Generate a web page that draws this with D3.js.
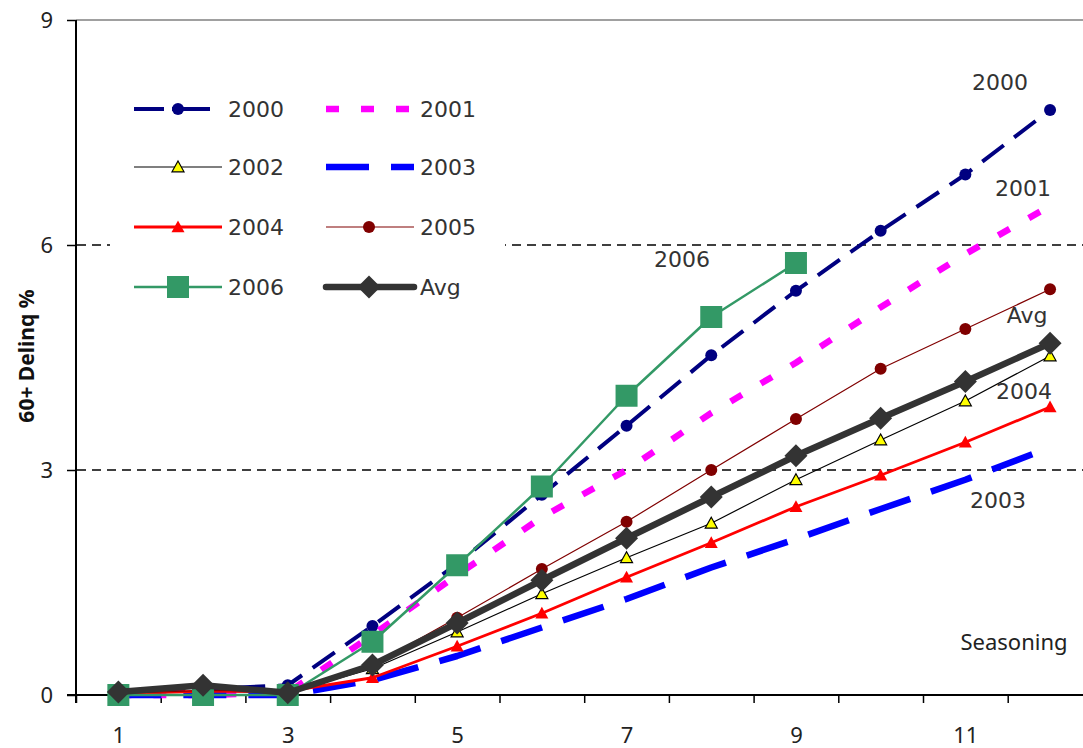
<!DOCTYPE html>
<html>
<head>
<meta charset="utf-8">
<script src="https://cdn.jsdelivr.net/npm/d3@7"></script>
<style>
  html, body { margin: 0; padding: 0; background: #fff; }
  svg { display: block; }
</style>
</head>
<body>
<svg id="chart" width="1083" height="748"></svg>
<script>
// ---- data ----
const categories = [1, 2, 3, 4, 5, 6, 7, 8, 9, 10, 11, 12];
const xTickLabels = [1, 3, 5, 7, 9, 11];
const yTickValues = [0, 3, 6, 9];
const gridValues = [3, 6];
const seriesNames = ["2000", "2001", "2002", "2003", "2004", "2005", "2006", "Avg"];
const v2000 = [0.03, 0.08, 0.13, 0.92, 1.75, 2.67, 3.59, 4.53, 5.39, 6.19, 6.94, 7.80];
const v2001 = [0.00, 0.00, 0.03, 0.80, 1.60, 2.37, 3.00, 3.76, 4.43, 5.17, 5.88, 6.52];
const v2002 = [0.02, 0.05, 0.03, 0.35, 0.84, 1.35, 1.83, 2.29, 2.87, 3.40, 3.92, 4.52];
const v2003 = [0.00, 0.00, 0.00, 0.20, 0.52, 0.90, 1.28, 1.70, 2.08, 2.48, 2.87, 3.30];
const v2004 = [0.02, 0.05, 0.05, 0.23, 0.65, 1.09, 1.57, 2.03, 2.51, 2.93, 3.37, 3.84];
const v2005 = [0.02, 0.06, 0.05, 0.40, 1.03, 1.68, 2.31, 3.00, 3.68, 4.35, 4.88, 5.41];
const v2006 = [0.00, 0.00, 0.00, 0.71, 1.73, 2.78, 3.99, 5.04, 5.76];
const vAvg  = [0.04, 0.13, 0.03, 0.40, 0.96, 1.53, 2.09, 2.64, 3.19, 3.69, 4.18, 4.69];
const yAxisTitle = "60+ Delinq %";
const xAxisTitle = "Seasoning";

// ---- styles (separate from data) ----
const styles = {
  "2000": {color: "#000080", width: 4, dash: "27,13", marker: "circle", fill: "#000080", stroke: "none", size: 6, legendDash: "30,8,38,14"},
  "2001": {color: "#FF00FF", width: 6.5, dash: "13,22", marker: null, legendDash: "13,22"},
  "2002": {color: "#000000", width: 1.2, dash: null, marker: "triangle", fill: "#FFFF00", stroke: "#000", size: 6},
  "2003": {color: "#0000FF", width: 6.5, dash: "43,22", marker: null, legendDash: "43,22"},
  "2004": {color: "#FF0000", width: 2.8, dash: null, marker: "triangle", fill: "#FF0000", stroke: "none", size: 6.5},
  "2005": {color: "#800000", width: 1.2, dash: null, marker: "circle", fill: "#800000", stroke: "none", size: 6},
  "2006": {color: "#339966", width: 2.5, dash: null, marker: "square", fill: "#339966", stroke: "none", size: 11},
  "Avg":  {color: "#333333", width: 6.5, dash: null, marker: "diamond", fill: "#333333", stroke: "none", size: 11.5}
};
const seriesValues = {"2000": v2000, "2001": v2001, "2002": v2002, "2003": v2003,
  "2004": v2004, "2005": v2005, "2006": v2006, "Avg": vAvg};

// ---- layout ----
const svg = d3.select("#chart");
const x = d3.scaleLinear().domain([0.5, 12.5]).range([76, 1092.4]);
const y = d3.scaleLinear().domain([0, 9]).range([695, 20]);

// top border
svg.append("line").attr("x1", 76).attr("x2", 1083).attr("y1", y(9)).attr("y2", y(9))
  .attr("stroke", "#a0a0a0").attr("stroke-width", 2);

// gridlines
svg.append("g").selectAll("line").data(gridValues).join("line")
  .attr("x1", 77).attr("x2", 1083)
  .attr("y1", d => y(d)).attr("y2", d => y(d))
  .attr("stroke", "#000").attr("stroke-width", 1.7).attr("stroke-dasharray", "9,6");

// legend background box (covers gridline)
svg.append("rect").attr("x", 110).attr("y", 76).attr("width", 395).attr("height", 238).attr("fill", "#fff");

// axes
const yAxis = d3.axisLeft(y).tickValues(yTickValues).tickSize(9).tickPadding(14);
const gy = svg.append("g").attr("transform", "translate(76,0)").call(yAxis);
gy.select(".domain").attr("stroke", "#000").attr("stroke-width", 2).attr("d", `M0,${y(9)}V${y(0)+8}`);
gy.selectAll(".tick line").attr("stroke", "#000").attr("stroke-width", 1.5);
gy.selectAll(".tick text").attr("font-family", "Noto Sans").attr("font-size", 22).attr("fill", "#222");

const boundaries = d3.range(0.5, 12.6, 1);
const xAxisTicks = d3.axisBottom(x).tickValues(boundaries).tickSize(8).tickFormat("");
const gx = svg.append("g").attr("transform", `translate(0,${y(0)})`).call(xAxisTicks);
gx.select(".domain").attr("stroke", "#000").attr("stroke-width", 2).attr("d", "M67,0H1083");
gx.selectAll(".tick line").attr("stroke", "#000").attr("stroke-width", 1.5);

const xAxisLabels = d3.axisBottom(x).tickValues(xTickLabels).tickSize(0).tickPadding(32).tickFormat(d3.format("d"));
const gxl = svg.append("g").attr("transform", `translate(0,${y(0)})`).call(xAxisLabels);
gxl.select(".domain").remove();
gxl.selectAll(".tick text").attr("font-family", "Noto Sans").attr("font-size", 22).attr("fill", "#222");

// axis titles
svg.append("text").attr("transform", "translate(34,356) rotate(-90)")
  .attr("text-anchor", "middle").attr("font-family", "Noto Sans").attr("font-weight", "bold")
  .attr("font-size", 21).attr("fill", "#111").text(yAxisTitle);
svg.append("text").attr("x", 1014).attr("y", 650).attr("text-anchor", "middle")
  .attr("font-family", "Noto Sans").attr("font-size", 22).attr("fill", "#222").text(xAxisTitle);

// marker path generator
function markerPath(type, s) {
  if (type === "circle") return `M${-s},0A${s},${s} 0 1,0 ${s},0A${s},${s} 0 1,0 ${-s},0Z`;
  if (type === "square") return `M${-s},${-s}H${s}V${s}H${-s}Z`;
  if (type === "diamond") return `M0,${-s}L${s},0L0,${s}L${-s},0Z`;
  if (type === "triangle") return `M0,${-s}L${s},${s*0.8}L${-s},${s*0.8}Z`;
  return "";
}

// series
const line = d3.line().x((d, i) => x(categories[i])).y(d => y(d));
const gSeries = svg.append("g");
seriesNames.forEach(name => {
  const st = styles[name];
  const vals = seriesValues[name];
  const g = gSeries.append("g");
  g.append("path").datum(vals).attr("d", line)
    .attr("fill", "none").attr("stroke", st.color).attr("stroke-width", st.width)
    .attr("stroke-linejoin", "round")
    .attr("stroke-dasharray", st.dash);
  if (st.marker) {
    g.selectAll("path.m").data(vals).join("path").attr("class", "m")
      .attr("transform", (d, i) => `translate(${x(categories[i])},${y(d)})`)
      .attr("d", markerPath(st.marker, st.size))
      .attr("fill", st.fill).attr("stroke", st.stroke).attr("stroke-width", 1.2);
  }
});

// series labels
const seriesLabels = [
  {t: "2000", x: 1000, y: 90}, {t: "2001", x: 1023, y: 196}, {t: "2006", x: 682, y: 267},
  {t: "Avg", x: 1027, y: 323}, {t: "2004", x: 1024, y: 399}, {t: "2003", x: 998, y: 508}
];
svg.append("g").selectAll("text").data(seriesLabels).join("text")
  .attr("x", d => d.x).attr("y", d => d.y).attr("text-anchor", "middle")
  .attr("font-family", "DejaVu Sans").attr("font-size", 22).attr("fill", "#333").text(d => d.t);

// legend
const legendRows = [109, 167, 227, 287];
const legendItems = seriesNames.map((name, i) => ({
  name, col: i % 2, row: Math.floor(i / 2)
}));
const lg = svg.append("g");
legendItems.forEach(it => {
  const st = styles[it.name];
  const cy = legendRows[it.row];
  const x0 = it.col === 0 ? 134 : 326;
  const x1 = it.col === 0 ? 222 : 414;
  const mx = it.col === 0 ? 178 : 369;
  const tx = it.col === 0 ? 228 : 420;
  lg.append("line").attr("x1", x0).attr("x2", x1).attr("y1", cy).attr("y2", cy)
    .attr("stroke", st.color).attr("stroke-width", st.width)
    .attr("stroke-dasharray", st.legendDash || null)
    .attr("stroke-linecap", it.name === "Avg" ? "round" : "butt");
  if (st.marker) {
    lg.append("path").attr("transform", `translate(${mx},${cy})`)
      .attr("d", markerPath(st.marker, st.size))
      .attr("fill", st.fill).attr("stroke", st.stroke).attr("stroke-width", 1.2);
  }
  lg.append("text").attr("x", tx).attr("y", cy + 8)
    .attr("font-family", "DejaVu Sans").attr("font-size", 22).attr("fill", "#333").text(it.name);
});
</script>
</body>
</html>
